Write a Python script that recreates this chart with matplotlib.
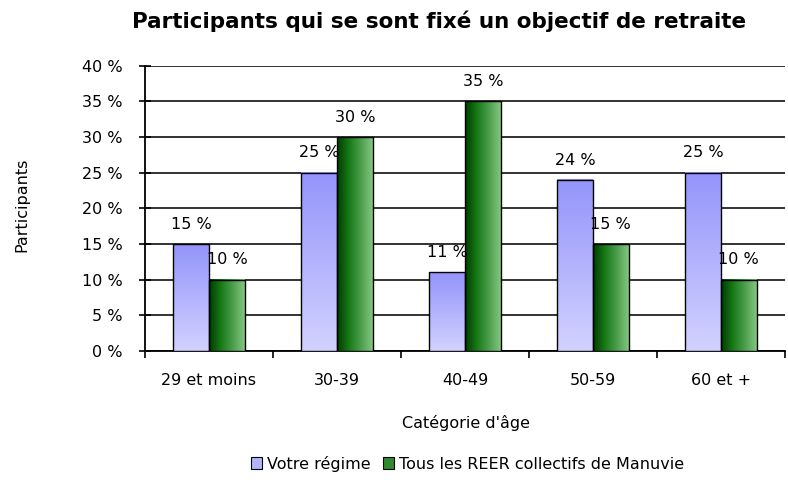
"""Grouped bar chart: participants who set a retirement goal, by age group."""

from __future__ import annotations

import matplotlib

matplotlib.use("Agg")

import matplotlib.pyplot as plt
import numpy as np
from matplotlib.colors import LinearSegmentedColormap
from matplotlib.patches import Patch

TITLE = "Participants qui se sont fixé un objectif de retraite"
CATEGORIES = ["29 et moins", "30-39", "40-49", "50-59", "60 et +"]
VOTRE_REGIME = [15, 25, 11, 24, 25]
MANUVIE = [10, 30, 35, 15, 10]
SERIES_NAMES = ["Votre régime", "Tous les REER collectifs de Manuvie"]
Y_TICKS = [0, 5, 10, 15, 20, 25, 30, 35, 40]

BLUE_CMAP = LinearSegmentedColormap.from_list("blue", ["#d2d2ff", "#9494fb"])
GREEN_CMAP = LinearSegmentedColormap.from_list(
    "green", ["#003c00", "#167a16", "#4c9e4c", "#84c684"]
)

plt.rcParams["font.family"] = ["DejaVu Sans"]
TEXT_SIZE = 11.5


def gradient_bar(ax, x0: float, width: float, height: float, cmap, vertical: bool) -> None:
    """Fill a bar rectangle with a linear gradient and draw its outline."""
    if vertical:
        grad = np.linspace(0, 1, 256).reshape(-1, 1)
    else:
        grad = np.linspace(0, 1, 256).reshape(1, -1)
    ax.imshow(
        grad,
        cmap=cmap,
        extent=[x0, x0 + width, 0, height],
        origin="lower",
        aspect="auto",
        interpolation="bilinear",
        zorder=3,
    )
    ax.add_patch(
        plt.Rectangle((x0, 0), width, height, fill=False, edgecolor="black", linewidth=1.0, zorder=4)
    )


def main() -> None:
    fig = plt.figure(figsize=(7.88, 4.80), dpi=100)
    ax = fig.add_axes([0.184, 0.269, 0.812, 0.594])

    x = np.arange(len(CATEGORIES))
    width = 0.28

    for i, (blue, green) in enumerate(zip(VOTRE_REGIME, MANUVIE, strict=True)):
        # blue: vertical gradient, darker at the top
        gradient_bar(ax, x[i] - width, width, blue, BLUE_CMAP, vertical=True)
        # green: horizontal gradient, dark on the left
        gradient_bar(ax, x[i], width, green, GREEN_CMAP, vertical=False)
        for xc, val in ((x[i] - width / 2, blue), (x[i] + width / 2, green)):
            ax.annotate(
                f"{val} %",
                (xc, val),
                xytext=(0, 11),
                textcoords="offset points",
                ha="center",
                va="baseline",
                fontsize=TEXT_SIZE,
                zorder=5,
            )

    ax.set_xlim(-0.5, len(CATEGORIES) - 0.5)
    ax.set_ylim(0, 40)
    ax.set_yticks(Y_TICKS)
    ax.set_yticklabels([f"{t} %" for t in Y_TICKS], fontsize=TEXT_SIZE)
    ax.set_xticks(x)
    ax.set_xticklabels(CATEGORIES, fontsize=TEXT_SIZE)
    ax.set_xticks(np.arange(len(CATEGORIES) + 1) - 0.5, minor=True)
    ax.tick_params(axis="x", which="major", length=0, pad=16)
    ax.tick_params(axis="x", which="minor", length=5, width=1.2, direction="out")
    ax.tick_params(axis="y", length=8, width=1.2, direction="inout", pad=12)

    ax.grid(axis="y", color="#222222", linewidth=1.3, zorder=1)
    ax.set_axisbelow(True)
    for side in ("top", "right"):
        ax.spines[side].set_visible(False)
    ax.spines["left"].set_linewidth(1.3)
    ax.spines["bottom"].set_linewidth(1.3)

    fig.text(0.028, 0.573, "Participants", rotation=90, ha="center", va="center", fontsize=TEXT_SIZE)
    fig.text(0.592, 0.119, "Catégorie d'âge", ha="center", va="center", fontsize=TEXT_SIZE)
    fig.text(0.557, 0.955, TITLE, ha="center", va="center", fontsize=15.5,
             fontweight="bold")

    handles = [
        Patch(facecolor="#b4b4fd", edgecolor="black", linewidth=0.8),
        Patch(facecolor="#2e8a2e", edgecolor="black", linewidth=0.8),
    ]
    fig.legend(
        handles,
        SERIES_NAMES,
        loc="center",
        bbox_to_anchor=(0.593, 0.034),
        ncol=2,
        frameon=False,
        fontsize=TEXT_SIZE,
        handlelength=0.7,
        handleheight=0.7,
        handletextpad=0.3,
        columnspacing=0.8,
    )

    fig.savefig("out.png", dpi=100)
    plt.close(fig)


if __name__ == "__main__":
    main()
